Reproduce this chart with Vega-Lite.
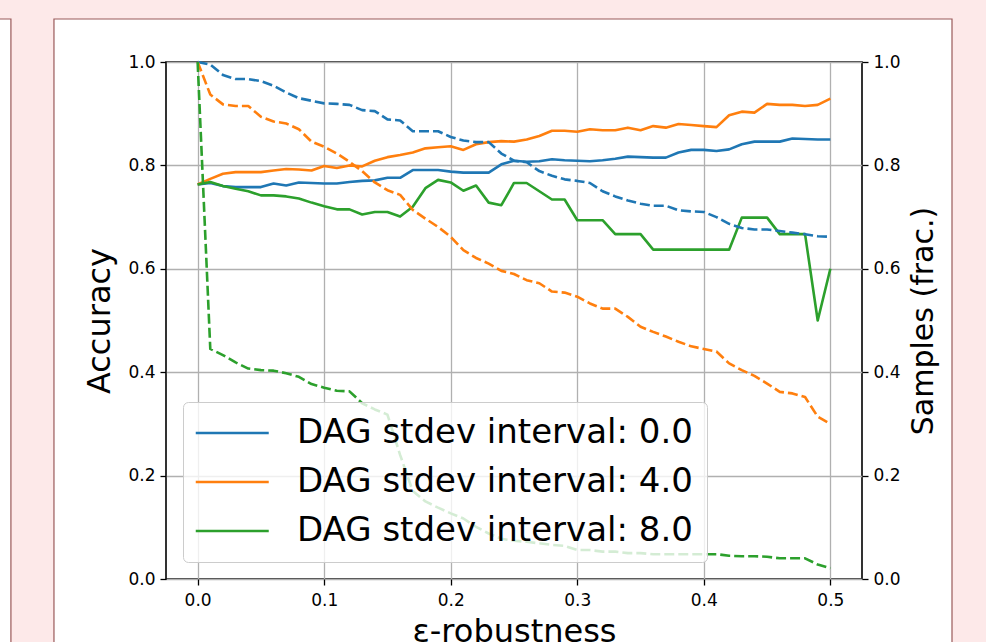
{
  "$schema": "https://vega.github.io/schema/vega-lite/v6.json",
  "width": 696,
  "height": 517,
  "autosize": {"type": "none"},
  "padding": {"left": 166, "top": 62, "right": 124, "bottom": 63},
  "background": "white",
  "config": {
    "view": {"stroke": "black", "strokeWidth": 1.6, "fill": "white"},
    "font": "DejaVu Sans",
    "axis": {
      "labelFont": "DejaVu Sans", "labelFontSize": 17, "labelColor": "black",
      "titleFont": "DejaVu Sans", "titleFontSize": 30, "titleFontWeight": "normal", "titleColor": "black",
      "tickColor": "black", "tickSize": 6, "tickWidth": 1.3, "domain": false,
      "gridColor": "#b0b0b0", "gridWidth": 1.3, "labelPadding": 5
    },
    "legend": {
      "orient": "bottom-left", "offset": 17,
      "fillColor": "rgba(255,255,255,0.8)", "strokeColor": "#cccccc", "cornerRadius": 5, "padding": 14,
      "labelFont": "DejaVu Sans", "labelFontSize": 34, "labelColor": "black", "labelLimit": 700,
      "symbolType": "M-1.5,0L4.5,0", "symbolSize": 592, "symbolStrokeWidth": 2.6, "labelOffset": 66, "rowPadding": 15
    }
  },
  "datasets": {
    "d": [
      {"eps":0.00,"series":"DAG stdev interval: 0.0","acc":0.763,"samples":1.0},
      {"eps":0.01,"series":"DAG stdev interval: 0.0","acc":0.766,"samples":0.995},
      {"eps":0.02,"series":"DAG stdev interval: 0.0","acc":0.760,"samples":0.975},
      {"eps":0.03,"series":"DAG stdev interval: 0.0","acc":0.758,"samples":0.967},
      {"eps":0.04,"series":"DAG stdev interval: 0.0","acc":0.758,"samples":0.967},
      {"eps":0.05,"series":"DAG stdev interval: 0.0","acc":0.758,"samples":0.963},
      {"eps":0.06,"series":"DAG stdev interval: 0.0","acc":0.765,"samples":0.954},
      {"eps":0.07,"series":"DAG stdev interval: 0.0","acc":0.761,"samples":0.941},
      {"eps":0.08,"series":"DAG stdev interval: 0.0","acc":0.767,"samples":0.930},
      {"eps":0.09,"series":"DAG stdev interval: 0.0","acc":0.766,"samples":0.925},
      {"eps":0.10,"series":"DAG stdev interval: 0.0","acc":0.765,"samples":0.920},
      {"eps":0.11,"series":"DAG stdev interval: 0.0","acc":0.765,"samples":0.919},
      {"eps":0.12,"series":"DAG stdev interval: 0.0","acc":0.768,"samples":0.917},
      {"eps":0.13,"series":"DAG stdev interval: 0.0","acc":0.770,"samples":0.907},
      {"eps":0.14,"series":"DAG stdev interval: 0.0","acc":0.771,"samples":0.905},
      {"eps":0.15,"series":"DAG stdev interval: 0.0","acc":0.776,"samples":0.889},
      {"eps":0.16,"series":"DAG stdev interval: 0.0","acc":0.776,"samples":0.887},
      {"eps":0.17,"series":"DAG stdev interval: 0.0","acc":0.791,"samples":0.866},
      {"eps":0.18,"series":"DAG stdev interval: 0.0","acc":0.791,"samples":0.866},
      {"eps":0.19,"series":"DAG stdev interval: 0.0","acc":0.791,"samples":0.866},
      {"eps":0.20,"series":"DAG stdev interval: 0.0","acc":0.788,"samples":0.855},
      {"eps":0.21,"series":"DAG stdev interval: 0.0","acc":0.786,"samples":0.848},
      {"eps":0.22,"series":"DAG stdev interval: 0.0","acc":0.786,"samples":0.845},
      {"eps":0.23,"series":"DAG stdev interval: 0.0","acc":0.786,"samples":0.845},
      {"eps":0.24,"series":"DAG stdev interval: 0.0","acc":0.802,"samples":0.823},
      {"eps":0.25,"series":"DAG stdev interval: 0.0","acc":0.809,"samples":0.809},
      {"eps":0.26,"series":"DAG stdev interval: 0.0","acc":0.807,"samples":0.806},
      {"eps":0.27,"series":"DAG stdev interval: 0.0","acc":0.808,"samples":0.789},
      {"eps":0.28,"series":"DAG stdev interval: 0.0","acc":0.812,"samples":0.780},
      {"eps":0.29,"series":"DAG stdev interval: 0.0","acc":0.810,"samples":0.773},
      {"eps":0.30,"series":"DAG stdev interval: 0.0","acc":0.809,"samples":0.770},
      {"eps":0.31,"series":"DAG stdev interval: 0.0","acc":0.808,"samples":0.766},
      {"eps":0.32,"series":"DAG stdev interval: 0.0","acc":0.810,"samples":0.750},
      {"eps":0.33,"series":"DAG stdev interval: 0.0","acc":0.813,"samples":0.740},
      {"eps":0.34,"series":"DAG stdev interval: 0.0","acc":0.817,"samples":0.732},
      {"eps":0.35,"series":"DAG stdev interval: 0.0","acc":0.816,"samples":0.726},
      {"eps":0.36,"series":"DAG stdev interval: 0.0","acc":0.815,"samples":0.722},
      {"eps":0.37,"series":"DAG stdev interval: 0.0","acc":0.815,"samples":0.722},
      {"eps":0.38,"series":"DAG stdev interval: 0.0","acc":0.825,"samples":0.713},
      {"eps":0.39,"series":"DAG stdev interval: 0.0","acc":0.830,"samples":0.711},
      {"eps":0.40,"series":"DAG stdev interval: 0.0","acc":0.830,"samples":0.710},
      {"eps":0.41,"series":"DAG stdev interval: 0.0","acc":0.828,"samples":0.700},
      {"eps":0.42,"series":"DAG stdev interval: 0.0","acc":0.831,"samples":0.687},
      {"eps":0.43,"series":"DAG stdev interval: 0.0","acc":0.841,"samples":0.679},
      {"eps":0.44,"series":"DAG stdev interval: 0.0","acc":0.846,"samples":0.676},
      {"eps":0.45,"series":"DAG stdev interval: 0.0","acc":0.846,"samples":0.676},
      {"eps":0.46,"series":"DAG stdev interval: 0.0","acc":0.846,"samples":0.673},
      {"eps":0.47,"series":"DAG stdev interval: 0.0","acc":0.852,"samples":0.670},
      {"eps":0.48,"series":"DAG stdev interval: 0.0","acc":0.851,"samples":0.667},
      {"eps":0.49,"series":"DAG stdev interval: 0.0","acc":0.850,"samples":0.663},
      {"eps":0.50,"series":"DAG stdev interval: 0.0","acc":0.850,"samples":0.662},

      {"eps":0.00,"series":"DAG stdev interval: 4.0","acc":0.763,"samples":1.0},
      {"eps":0.01,"series":"DAG stdev interval: 4.0","acc":0.774,"samples":0.937},
      {"eps":0.02,"series":"DAG stdev interval: 4.0","acc":0.784,"samples":0.918},
      {"eps":0.03,"series":"DAG stdev interval: 4.0","acc":0.787,"samples":0.915},
      {"eps":0.04,"series":"DAG stdev interval: 4.0","acc":0.787,"samples":0.915},
      {"eps":0.05,"series":"DAG stdev interval: 4.0","acc":0.787,"samples":0.894},
      {"eps":0.06,"series":"DAG stdev interval: 4.0","acc":0.790,"samples":0.885},
      {"eps":0.07,"series":"DAG stdev interval: 4.0","acc":0.793,"samples":0.881},
      {"eps":0.08,"series":"DAG stdev interval: 4.0","acc":0.792,"samples":0.870},
      {"eps":0.09,"series":"DAG stdev interval: 4.0","acc":0.790,"samples":0.846},
      {"eps":0.10,"series":"DAG stdev interval: 4.0","acc":0.799,"samples":0.836},
      {"eps":0.11,"series":"DAG stdev interval: 4.0","acc":0.795,"samples":0.823},
      {"eps":0.12,"series":"DAG stdev interval: 4.0","acc":0.800,"samples":0.807},
      {"eps":0.13,"series":"DAG stdev interval: 4.0","acc":0.798,"samples":0.789},
      {"eps":0.14,"series":"DAG stdev interval: 4.0","acc":0.809,"samples":0.767},
      {"eps":0.15,"series":"DAG stdev interval: 4.0","acc":0.816,"samples":0.752},
      {"eps":0.16,"series":"DAG stdev interval: 4.0","acc":0.820,"samples":0.743},
      {"eps":0.17,"series":"DAG stdev interval: 4.0","acc":0.825,"samples":0.714},
      {"eps":0.18,"series":"DAG stdev interval: 4.0","acc":0.833,"samples":0.697},
      {"eps":0.19,"series":"DAG stdev interval: 4.0","acc":0.835,"samples":0.681},
      {"eps":0.20,"series":"DAG stdev interval: 4.0","acc":0.837,"samples":0.662},
      {"eps":0.21,"series":"DAG stdev interval: 4.0","acc":0.830,"samples":0.636},
      {"eps":0.22,"series":"DAG stdev interval: 4.0","acc":0.841,"samples":0.621},
      {"eps":0.23,"series":"DAG stdev interval: 4.0","acc":0.845,"samples":0.610},
      {"eps":0.24,"series":"DAG stdev interval: 4.0","acc":0.847,"samples":0.596},
      {"eps":0.25,"series":"DAG stdev interval: 4.0","acc":0.846,"samples":0.590},
      {"eps":0.26,"series":"DAG stdev interval: 4.0","acc":0.850,"samples":0.578},
      {"eps":0.27,"series":"DAG stdev interval: 4.0","acc":0.857,"samples":0.572},
      {"eps":0.28,"series":"DAG stdev interval: 4.0","acc":0.867,"samples":0.556},
      {"eps":0.29,"series":"DAG stdev interval: 4.0","acc":0.867,"samples":0.554},
      {"eps":0.30,"series":"DAG stdev interval: 4.0","acc":0.865,"samples":0.546},
      {"eps":0.31,"series":"DAG stdev interval: 4.0","acc":0.870,"samples":0.533},
      {"eps":0.32,"series":"DAG stdev interval: 4.0","acc":0.868,"samples":0.523},
      {"eps":0.33,"series":"DAG stdev interval: 4.0","acc":0.868,"samples":0.523},
      {"eps":0.34,"series":"DAG stdev interval: 4.0","acc":0.873,"samples":0.507},
      {"eps":0.35,"series":"DAG stdev interval: 4.0","acc":0.868,"samples":0.488},
      {"eps":0.36,"series":"DAG stdev interval: 4.0","acc":0.876,"samples":0.478},
      {"eps":0.37,"series":"DAG stdev interval: 4.0","acc":0.873,"samples":0.469},
      {"eps":0.38,"series":"DAG stdev interval: 4.0","acc":0.880,"samples":0.459},
      {"eps":0.39,"series":"DAG stdev interval: 4.0","acc":0.878,"samples":0.450},
      {"eps":0.40,"series":"DAG stdev interval: 4.0","acc":0.876,"samples":0.445},
      {"eps":0.41,"series":"DAG stdev interval: 4.0","acc":0.874,"samples":0.440},
      {"eps":0.42,"series":"DAG stdev interval: 4.0","acc":0.897,"samples":0.417},
      {"eps":0.43,"series":"DAG stdev interval: 4.0","acc":0.904,"samples":0.404},
      {"eps":0.44,"series":"DAG stdev interval: 4.0","acc":0.902,"samples":0.393},
      {"eps":0.45,"series":"DAG stdev interval: 4.0","acc":0.919,"samples":0.378},
      {"eps":0.46,"series":"DAG stdev interval: 4.0","acc":0.917,"samples":0.362},
      {"eps":0.47,"series":"DAG stdev interval: 4.0","acc":0.917,"samples":0.359},
      {"eps":0.48,"series":"DAG stdev interval: 4.0","acc":0.915,"samples":0.352},
      {"eps":0.49,"series":"DAG stdev interval: 4.0","acc":0.917,"samples":0.314},
      {"eps":0.50,"series":"DAG stdev interval: 4.0","acc":0.929,"samples":0.300},

      {"eps":0.00,"series":"DAG stdev interval: 8.0","acc":0.763,"samples":1.0},
      {"eps":0.01,"series":"DAG stdev interval: 8.0","acc":0.768,"samples":0.445},
      {"eps":0.02,"series":"DAG stdev interval: 8.0","acc":0.760,"samples":0.433},
      {"eps":0.03,"series":"DAG stdev interval: 8.0","acc":0.755,"samples":0.419},
      {"eps":0.04,"series":"DAG stdev interval: 8.0","acc":0.750,"samples":0.407},
      {"eps":0.05,"series":"DAG stdev interval: 8.0","acc":0.742,"samples":0.404},
      {"eps":0.06,"series":"DAG stdev interval: 8.0","acc":0.742,"samples":0.403},
      {"eps":0.07,"series":"DAG stdev interval: 8.0","acc":0.740,"samples":0.398},
      {"eps":0.08,"series":"DAG stdev interval: 8.0","acc":0.736,"samples":0.391},
      {"eps":0.09,"series":"DAG stdev interval: 8.0","acc":0.728,"samples":0.377},
      {"eps":0.10,"series":"DAG stdev interval: 8.0","acc":0.721,"samples":0.370},
      {"eps":0.11,"series":"DAG stdev interval: 8.0","acc":0.715,"samples":0.364},
      {"eps":0.12,"series":"DAG stdev interval: 8.0","acc":0.715,"samples":0.363},
      {"eps":0.13,"series":"DAG stdev interval: 8.0","acc":0.705,"samples":0.340},
      {"eps":0.14,"series":"DAG stdev interval: 8.0","acc":0.710,"samples":0.328},
      {"eps":0.15,"series":"DAG stdev interval: 8.0","acc":0.710,"samples":0.318},
      {"eps":0.16,"series":"DAG stdev interval: 8.0","acc":0.701,"samples":0.240},
      {"eps":0.17,"series":"DAG stdev interval: 8.0","acc":0.720,"samples":0.170},
      {"eps":0.18,"series":"DAG stdev interval: 8.0","acc":0.756,"samples":0.150},
      {"eps":0.19,"series":"DAG stdev interval: 8.0","acc":0.772,"samples":0.138},
      {"eps":0.20,"series":"DAG stdev interval: 8.0","acc":0.767,"samples":0.127},
      {"eps":0.21,"series":"DAG stdev interval: 8.0","acc":0.751,"samples":0.117},
      {"eps":0.22,"series":"DAG stdev interval: 8.0","acc":0.761,"samples":0.101},
      {"eps":0.23,"series":"DAG stdev interval: 8.0","acc":0.728,"samples":0.088},
      {"eps":0.24,"series":"DAG stdev interval: 8.0","acc":0.723,"samples":0.078},
      {"eps":0.25,"series":"DAG stdev interval: 8.0","acc":0.766,"samples":0.074},
      {"eps":0.26,"series":"DAG stdev interval: 8.0","acc":0.766,"samples":0.072},
      {"eps":0.27,"series":"DAG stdev interval: 8.0","acc":0.750,"samples":0.069},
      {"eps":0.28,"series":"DAG stdev interval: 8.0","acc":0.734,"samples":0.066},
      {"eps":0.29,"series":"DAG stdev interval: 8.0","acc":0.734,"samples":0.064},
      {"eps":0.30,"series":"DAG stdev interval: 8.0","acc":0.694,"samples":0.056},
      {"eps":0.31,"series":"DAG stdev interval: 8.0","acc":0.694,"samples":0.056},
      {"eps":0.32,"series":"DAG stdev interval: 8.0","acc":0.694,"samples":0.053},
      {"eps":0.33,"series":"DAG stdev interval: 8.0","acc":0.667,"samples":0.053},
      {"eps":0.34,"series":"DAG stdev interval: 8.0","acc":0.667,"samples":0.050},
      {"eps":0.35,"series":"DAG stdev interval: 8.0","acc":0.667,"samples":0.050},
      {"eps":0.36,"series":"DAG stdev interval: 8.0","acc":0.637,"samples":0.048},
      {"eps":0.37,"series":"DAG stdev interval: 8.0","acc":0.637,"samples":0.048},
      {"eps":0.38,"series":"DAG stdev interval: 8.0","acc":0.637,"samples":0.048},
      {"eps":0.39,"series":"DAG stdev interval: 8.0","acc":0.637,"samples":0.048},
      {"eps":0.40,"series":"DAG stdev interval: 8.0","acc":0.637,"samples":0.048},
      {"eps":0.41,"series":"DAG stdev interval: 8.0","acc":0.637,"samples":0.048},
      {"eps":0.42,"series":"DAG stdev interval: 8.0","acc":0.637,"samples":0.045},
      {"eps":0.43,"series":"DAG stdev interval: 8.0","acc":0.699,"samples":0.044},
      {"eps":0.44,"series":"DAG stdev interval: 8.0","acc":0.699,"samples":0.044},
      {"eps":0.45,"series":"DAG stdev interval: 8.0","acc":0.699,"samples":0.043},
      {"eps":0.46,"series":"DAG stdev interval: 8.0","acc":0.667,"samples":0.040},
      {"eps":0.47,"series":"DAG stdev interval: 8.0","acc":0.667,"samples":0.040},
      {"eps":0.48,"series":"DAG stdev interval: 8.0","acc":0.667,"samples":0.040},
      {"eps":0.49,"series":"DAG stdev interval: 8.0","acc":0.500,"samples":0.028},
      {"eps":0.50,"series":"DAG stdev interval: 8.0","acc":0.600,"samples":0.021}
    ]
  },
  "layer": [
    {
      "data": {"values": [{}]},
      "mark": {"type": "rect", "fill": "#fde9e9"},
      "encoding": {
        "x": {"datum": -0.3, "type": "quantitative", "scale": {"domain": [-0.025, 0.525], "nice": false, "zero": false}},
        "x2": {"datum": 0.8},
        "y": {"datum": 1.08317, "type": "quantitative", "scale": {"domain": [0, 1], "nice": false, "zero": false}, "axis": null},
        "y2": {"datum": 1.4}
      }
    },
    {
      "data": {"values": [{}]},
      "mark": {"type": "rect", "fill": "#fde9e9"},
      "encoding": {
        "x": {"datum": -0.14755, "type": "quantitative", "scale": {"domain": [-0.025, 0.525], "nice": false, "zero": false}},
        "x2": {"datum": -0.11353},
        "y": {"datum": -0.3, "type": "quantitative", "scale": {"domain": [0, 1], "nice": false, "zero": false}, "axis": null},
        "y2": {"datum": 1.08317}
      }
    },
    {
      "data": {"values": [{}]},
      "mark": {"type": "rect", "fill": "#fde9e9"},
      "encoding": {
        "x": {"datum": 0.59612, "type": "quantitative", "scale": {"domain": [-0.025, 0.525], "nice": false, "zero": false}},
        "x2": {"datum": 0.8},
        "y": {"datum": -0.3, "type": "quantitative", "scale": {"domain": [0, 1], "nice": false, "zero": false}, "axis": null},
        "y2": {"datum": 1.08317}
      }
    },
    {
      "data": {"values": [{}]},
      "mark": {"type": "rect", "fill": "white", "fillOpacity": 0, "stroke": "#9a5a5a", "strokeWidth": 1.2},
      "encoding": {
        "x": {"datum": -0.11353, "type": "quantitative", "scale": {"domain": [-0.025, 0.525], "nice": false, "zero": false}},
        "x2": {"datum": 0.59612},
        "y": {"datum": -0.3, "type": "quantitative", "scale": {"domain": [0, 1], "nice": false, "zero": false}, "axis": null},
        "y2": {"datum": 1.08317}
      }
    },
    {
      "data": {"values": [{}]},
      "mark": {"type": "rect", "fill": "white", "fillOpacity": 0, "stroke": "#9a5a5a", "strokeWidth": 1.2},
      "encoding": {
        "x": {"datum": -0.3, "type": "quantitative", "scale": {"domain": [-0.025, 0.525], "nice": false, "zero": false}},
        "x2": {"datum": -0.14755},
        "y": {"datum": -0.3, "type": "quantitative", "scale": {"domain": [0, 1], "nice": false, "zero": false}, "axis": null},
        "y2": {"datum": 1.08317}
      }
    },
    {
      "data": {"name": "d"},
      "mark": {"type": "line", "strokeWidth": 2.6, "strokeJoin": "round"},
      "encoding": {
        "x": {"field": "eps", "type": "quantitative", "scale": {"domain": [-0.025, 0.525], "nice": false, "zero": false}, "axis": {"values": [0, 0.1, 0.2, 0.3, 0.4, 0.5], "format": ".1f", "title": "ε-robustness", "grid": true, "titlePadding": 8, "titleFontSize": 32, "labelPadding": 7}},
        "y": {"field": "acc", "type": "quantitative", "scale": {"domain": [0, 1], "nice": false, "zero": false}, "axis": {"orient": "left", "values": [0, 0.2, 0.4, 0.6, 0.8, 1.0], "format": ".1f", "title": "Accuracy", "grid": true, "titlePadding": 11, "titleFontSize": 32}},
        "color": {"field": "series", "type": "nominal", "scale": {"domain": ["DAG stdev interval: 0.0", "DAG stdev interval: 4.0", "DAG stdev interval: 8.0"], "range": ["#1f77b4", "#ff7f0e", "#2ca02c"]}, "legend": {"title": null}}
      }
    },
    {
      "data": {"name": "d"},
      "mark": {"type": "line", "strokeWidth": 2.6, "strokeJoin": "round", "strokeDash": [10, 4]},
      "encoding": {
        "x": {"field": "eps", "type": "quantitative", "scale": {"domain": [-0.025, 0.525], "nice": false, "zero": false}},
        "y": {"field": "samples", "type": "quantitative", "scale": {"domain": [0, 1], "nice": false, "zero": false}, "axis": {"orient": "right", "values": [0, 0.2, 0.4, 0.6, 0.8, 1.0], "format": ".1f", "title": "Samples (frac.)", "titleAngle": 270, "titleBaseline": "top", "grid": false, "titlePadding": 8}},
        "color": {"field": "series", "type": "nominal", "scale": {"domain": ["DAG stdev interval: 0.0", "DAG stdev interval: 4.0", "DAG stdev interval: 8.0"], "range": ["#1f77b4", "#ff7f0e", "#2ca02c"]}, "legend": {"title": null}}
      }
    }
  ],
  "resolve": {"scale": {"y": "independent"}, "axis": {"y": "independent"}}
}
